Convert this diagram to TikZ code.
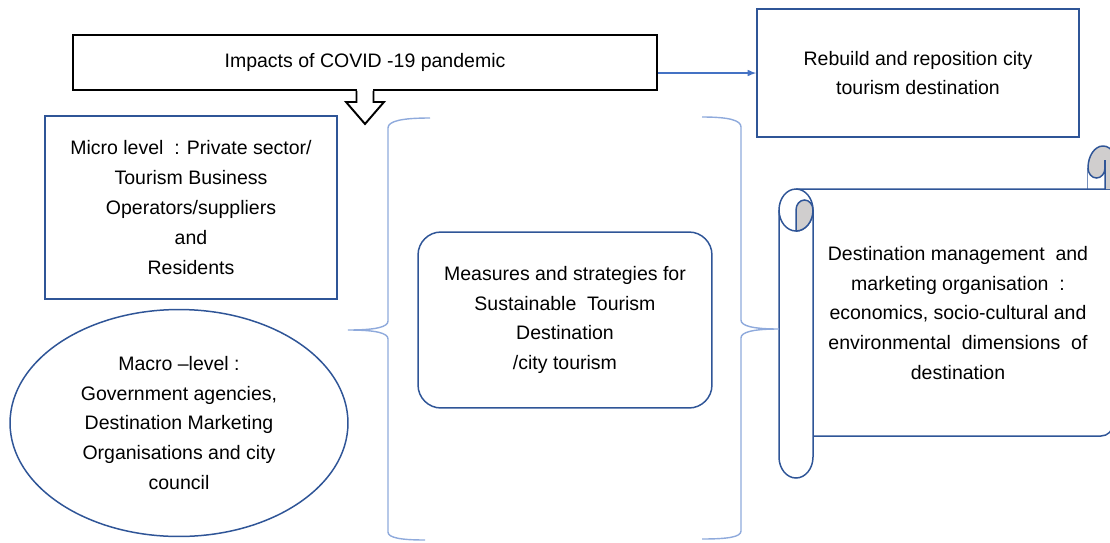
\documentclass[tikz,border=0pt]{standalone}
\usepackage{fontspec}
\setmainfont{Liberation Sans}
\usetikzlibrary{calc}
\usetikzlibrary{arrows}
\usetikzlibrary{shapes.geometric}
\definecolor{BoxBlue}{HTML}{2F5597}
\definecolor{ArrowBlue}{HTML}{4472C4}
\definecolor{BraceBlue}{HTML}{8FAADC}
\definecolor{RollGray}{HTML}{D0CECE}

\begin{document}
\begin{tikzpicture}[x=0.02cm, y=-0.02cm,
  every node/.style={font=\fontsize{11.1}{17}\selectfont, align=center, inner sep=0pt},
  bluebox/.style={draw=BoxBlue, line width=0.85pt},
  bracestyle/.style={draw=BraceBlue, line width=0.8pt},
  scrollline/.style={draw=BoxBlue, line width=0.85pt}]
  \clip (0,0) rectangle (1110,542);

  \coordinate (LeftTip)  at (348,330);
  \coordinate (RightTip) at (779,329);

  % scroll (drawn first, text node on top)
  \filldraw[scrollline, fill=white] (796,189) -- (1113,189) -- (1113,424)
    arc[start angle=0, end angle=90, radius=12] -- (813,436);
  \filldraw[scrollline, fill=white] (813,210) -- (813,457)
    arc[start angle=0, end angle=180, x radius=17, y radius=21] -- (779,210);
  \filldraw[scrollline, fill=white] (796,210) ellipse [x radius=17, y radius=21];
  \filldraw[scrollline, fill=RollGray] (796,231) -- (796,210)
    arc[start angle=180, end angle=360, x radius=8.5, y radius=10]
    arc[start angle=0, end angle=90, x radius=17, y radius=21] -- cycle;
  \filldraw[scrollline, fill=RollGray] (1088,189) -- (1088,168)
    arc[start angle=180, end angle=360, x radius=15, y radius=22] -- (1118,189);
  \filldraw[scrollline, fill=white] (1088,168)
    arc[start angle=180, end angle=0, x radius=8.5, y radius=10] -- (1105,189) -- (1088,189);
  \draw[scrollline] (1105,160) -- (1105,168);

  \node (Impacts) [draw=black, line width=1.1pt, minimum width=11.68cm, minimum height=1.1cm]
    at (365,62.5) {Impacts of COVID -19 pandemic};
  \node (Rebuild) [bluebox, minimum width=6.44cm, minimum height=2.56cm]
    at (918,73) {Rebuild and reposition city\\tourism destination};
  \node (Micro) [bluebox, minimum width=5.84cm, minimum height=3.66cm]
    at (191,207.5) {Micro level\ \ : Private sector/\\Tourism Business\\Operators/suppliers\\and\\Residents};
  \node (Macro) [bluebox, ellipse, minimum width=6.76cm, minimum height=4.54cm]
    at (179,423) {Macro --level :\\Government agencies,\\Destination Marketing\\Organisations and city\\council};
  \node (Measures) [bluebox, rounded corners=0.46cm, minimum width=5.88cm, minimum height=3.52cm]
    at (565,320) {Measures and strategies for\\Sustainable\ \ Tourism\\Destination\\/city tourism};
  \node (DMO) at (958,313) {Destination management\ \ and\\marketing organisation\ \ :\\economics, socio-cultural and\\environmental\ \ dimensions\ \ of\\destination};

  % hollow arrow below the impacts box
  \begin{scope}[shift={(Impacts.south)}]
    \fill[white] (-8,-2) rectangle (8,2);
    \filldraw[draw=black, fill=white, line width=1.1pt]
      (-8.5,0) -- (-8.5,11) -- (-19,11) -- (0,33) -- (19,11) -- (8.5,11) -- (8.5,0);
  \end{scope}

  \draw [-latex, ArrowBlue, line width=0.7pt] (Impacts.east |- Rebuild.west) -- (Rebuild.west);

  % braces
  \draw[bracestyle] (430,118) .. controls (402,118) and (388,121) .. (388,128)
    -- (388,321) .. controls (388,327) and (376,330) .. (LeftTip)
    .. controls (376,330) and (388,333) .. (388,339)
    -- (388,532) .. controls (388,538) and (402,540) .. (425,540);
  \draw[bracestyle] (702,117) .. controls (728,117) and (741,120) .. (741,127)
    -- (741,320) .. controls (741,326) and (753,329) .. (RightTip)
    .. controls (753,329) and (741,332) .. (741,338)
    -- (741,531) .. controls (741,537) and (728,539) .. (702,539);
\end{tikzpicture}
\end{document}
